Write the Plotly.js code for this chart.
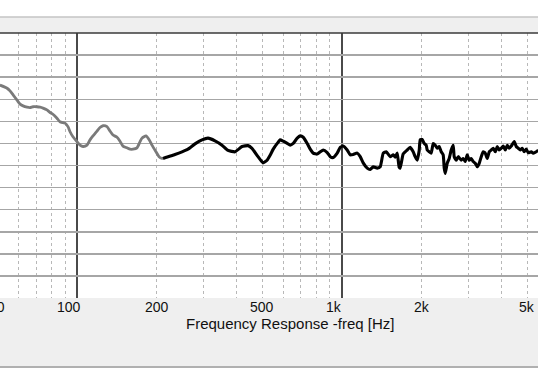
<!DOCTYPE html>
<html>
<head>
<meta charset="utf-8">
<script src="https://cdn.plot.ly/plotly-3.0.1.min.js"></script>
<style>html,body{margin:0;padding:0;background:#fff;}#chart{width:538px;height:382px;}</style>
</head>
<body>
<div id="chart"></div>
<script>
// Low-frequency part (gray)
const freqLow = [51,54.3,55.7,57.2,59.2,60.8,62.4,64.6,66.3,68,70.4,72.3,74.2,76.8,78.9,80.9,83.8,86,88.3,89.8,92.2,93.8,96.3,99.7,102.4,105.1,108.8,111.7,114.6,118.7,121.8,125.1,129.5,132.9,136.4,141.3,145,148.8,154.1,158.2,162.4,168.1,172.6,175.6,181.8,186.6,191.5,198.3,203.6,208.9,210.8];
const splLow  = [88.2,87.5,86.9,86.0,84.8,83.9,83.5,83.2,83.1,83.3,83.3,83.2,83.0,82.6,82.0,81.6,80.7,79.9,79.7,79.6,78.8,77.7,76.5,75.4,74.6,74.3,74.6,75.8,76.7,77.8,78.6,79.0,78.8,77.8,76.9,76.4,75.5,74.4,74.0,73.7,73.7,74.0,75.4,76.2,76.7,75.9,74.6,73.1,72.0,71.6,71.6];
// Main part (black)
const freqHigh = [210.8,220.2,233.9,248.7,261.9,278.4,295.9,311.8,331.3,352.1,371,394.3,419.1,441.6,457.1,481.6,503,521,535.8,549.9,569.3,584.4,599.8,621,637.4,654.4,677.5,695.4,713.8,738.9,758.6,778.6,806.2,827.4,849.4,879.4,902.7,926.6,959.3,984.7,1010.7,1046.4,1074.1,1102.6,1141.6,1171.8,1202.6,1245.2,1278.3,1312.2,1358.6,1394.5,1431.6,1468.9,1521,1561.4,1588.7,1616.7,1644.6,1659,1702.7,1763,1809.5,1857.7,1890.2,1923.6,1957.5,1974.4,2009.2,2044.3,2080.3,2098.6,2135.2,2172.9,2210.9,2249.9,2289.6,2329.5,2370.6,2412,2433.2,2454.6,2497.8,2541.3,2586.1,2631.2,2654.3,2701.2,2748.2,2821.1,2870.3,2921,2972,3024.4,3077.8,3131.4,3186.7,3242.5,3299.8,3358,3416.6,3476.9,3537.5,3599.9,3662.6,3727.3,3793.1,3859.2,3927.3,3995.8,4066.3,4138.1,4210.2,4284.5,4359.2,4474.2,4553.2,4633.5,4714.3,4797.5,4881.1,4967.3,5053.9,5188,5278.4,5418.8,5513.2];
const splHigh  = [71.6,72.0,72.5,73.1,73.7,74.9,75.8,76.2,75.6,74.6,73.4,73.1,74.3,74.5,73.9,72.0,70.6,71.2,72.4,73.7,75.0,75.8,75.5,75.0,74.6,75.0,76.2,76.7,76.4,75.0,73.7,72.8,72.6,73.1,73.5,72.9,72.0,71.8,72.8,74.1,74.4,73.5,72.4,72.5,72.8,72.0,70.6,69.4,69.1,69.7,69.4,69.7,72.8,73.1,72.0,72.4,71.9,72.8,69.6,69.4,72.6,73.5,74.1,73.1,72.0,71.2,73.4,75.8,75.9,75.0,74.6,73.5,73.1,72.8,75.0,74.6,73.9,74.3,73.1,72.4,69.4,68.2,70.5,71.6,73.5,74.6,72.0,71.2,72.0,71.2,71.6,70.9,72.4,71.2,71.6,70.9,70.5,69.7,70.5,72.0,73.1,72.8,71.6,73.1,73.5,73.9,73.1,74.3,73.5,73.9,74.4,73.5,74.6,73.9,74.4,75.4,74.3,73.9,73.5,73.9,73.1,73.7,72.9,73.1,72.8,73.1,73.5];

const majorTicks = [100, 1000];
const minorTicks = [60,70,80,90,200,300,400,500,600,700,800,900,2000,3000,4000,5000];
const labelVals = [100, 200, 500, 1000, 2000, 5000];
const labelText = ['100', '200', '500', '1k', '2k', '5k'];
const labelShift = [-8, 0, 0, -7.5, 0, 0];
const edgeLabel = '50';
const axisTitle = 'Frequency Response -freq [Hz]';

const traces = [
  {x: freqLow, y: splLow, type: 'scatter', mode: 'lines',
   line: {color: '#7a7a7a', width: 2.8, shape: 'spline', smoothing: 0.6}, hoverinfo: 'skip'},
  {x: freqHigh, y: splHigh, type: 'scatter', mode: 'lines',
   line: {color: '#000000', width: 3.1, shape: 'spline', smoothing: 0.4}, hoverinfo: 'skip'}
];

const tickFont = {family: 'Liberation Sans, Arial, sans-serif', size: 14, color: '#111'};
const annotations = labelVals.map((v, i) => ({
  x: Math.log10(v), xref: 'x', y: 0, yref: 'paper',
  text: labelText[i], showarrow: false, xanchor: 'center', yanchor: 'middle',
  yshift: -9, xshift: labelShift[i], font: tickFont
}));
annotations.push({
  x: 0, xref: 'paper', y: 0, yref: 'paper', text: edgeLabel, showarrow: false,
  xanchor: 'center', yanchor: 'middle', yshift: -9, xshift: -3, font: tickFont
});
annotations.push({
  x: 289.5 / 538, xref: 'paper', y: 0, yref: 'paper', text: axisTitle,
  showarrow: false, xanchor: 'center', yanchor: 'middle', yshift: -25,
  font: {family: 'Liberation Sans, Arial, sans-serif', size: 15, color: '#111'}
});

const layout = {
  width: 538, height: 382,
  margin: {l: 0, r: 0, t: 33, b: 84, pad: 0},
  paper_bgcolor: '#ffffff', plot_bgcolor: '#ffffff',
  showlegend: false,
  xaxis: {
    type: 'log', range: [1.708, 3.7405], fixedrange: true,
    tickmode: 'array', tickvals: majorTicks, showticklabels: false, ticks: '',
    showgrid: true, gridcolor: '#4a4a4a', gridwidth: 1.6,
    zeroline: false, showline: false,
    minor: {tickmode: 'array', tickvals: minorTicks, showgrid: true,
            gridcolor: '#b8b8b8', gridwidth: 1, griddash: 'dot', ticks: ''}
  },
  yaxis: {
    range: [40, 100], dtick: 5, tick0: 40, fixedrange: true,
    showticklabels: false, ticks: '',
    showgrid: true, gridcolor: '#a6a6a6', gridwidth: 1.5,
    zeroline: false, showline: false
  },
  shapes: [
    {type: 'rect', xref: 'paper', yref: 'paper', x0: -0.01, x1: 1.01, y0: 1, y1: 1.0604,
     fillcolor: '#efefef', line: {width: 0}, layer: 'below'},
    {type: 'rect', xref: 'paper', yref: 'paper', x0: -0.01, x1: 1.01, y0: -0.2604, y1: 0,
     fillcolor: '#efefef', line: {width: 0}, layer: 'below'},
    {type: 'line', xref: 'paper', yref: 'paper', x0: -0.01, x1: 1.01, y0: 1.0604, y1: 1.0604,
     line: {color: '#c4c4c4', width: 1.5}},
    {type: 'line', xref: 'paper', yref: 'paper', x0: -0.01, x1: 1.01, y0: -0.2604, y1: -0.2604,
     line: {color: '#b0b0b0', width: 2}},
    {type: 'line', xref: 'paper', yref: 'paper', x0: -0.01, x1: 1.01, y0: 1, y1: 1,
     line: {color: '#3a3a3a', width: 1.5}}
  ],
  annotations: annotations
};

Plotly.newPlot('chart', traces, layout, {staticPlot: true, displayModeBar: false});
</script>
</body>
</html>
